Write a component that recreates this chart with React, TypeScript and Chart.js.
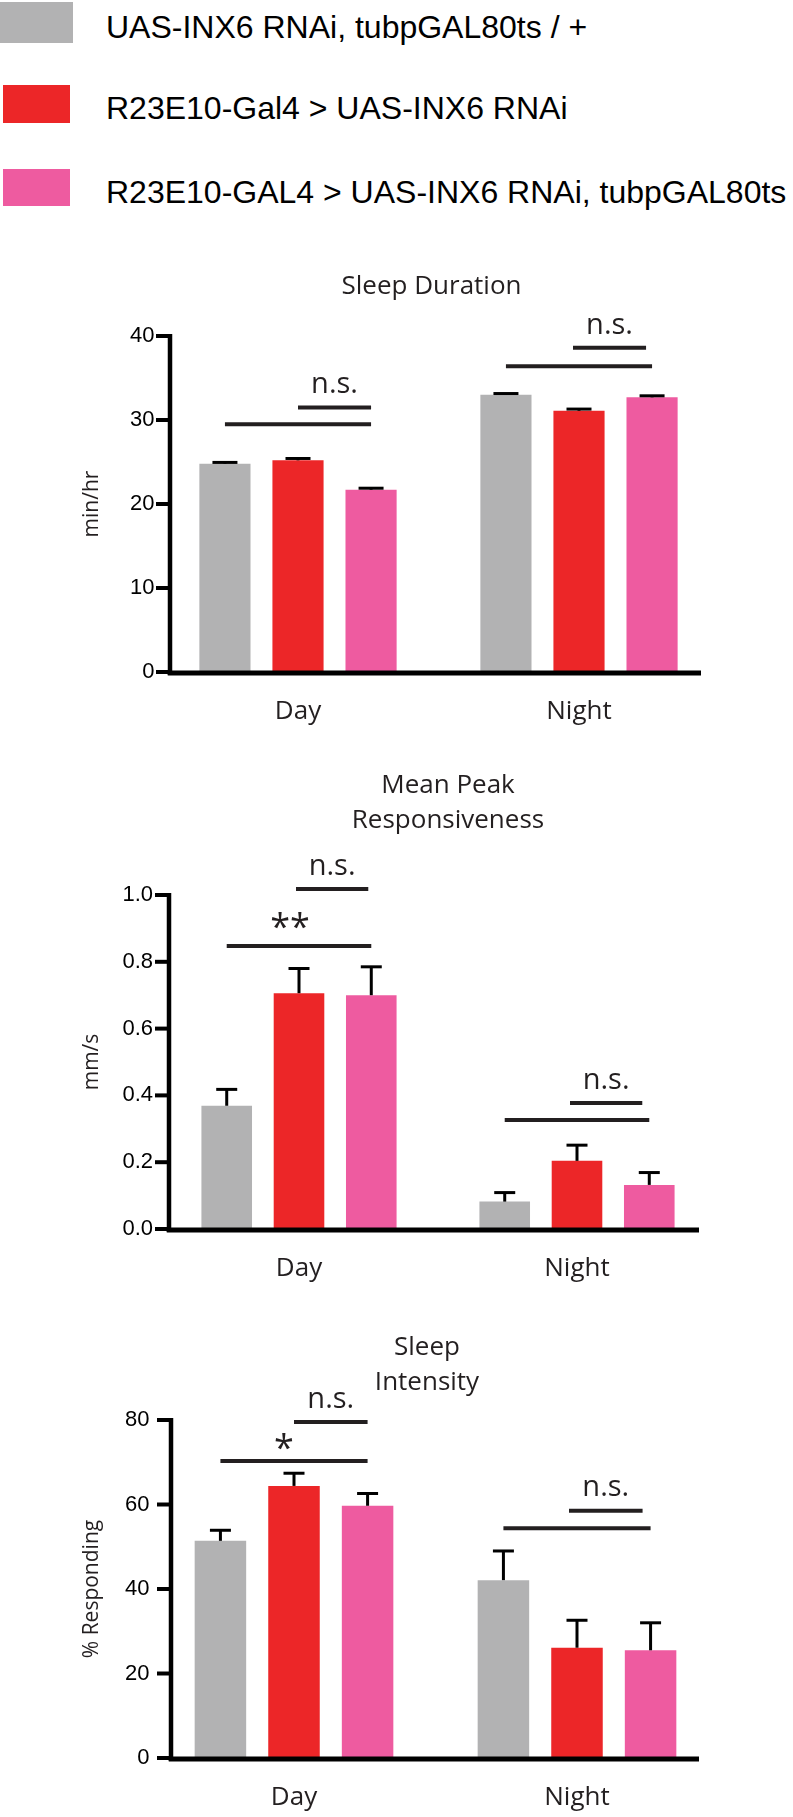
import { useEffect, useRef } from 'react';
import { Chart, registerables } from 'chart.js';

Chart.register(...registerables);

// ---------- data ----------
const categories = ['Day', 'Night'];
const seriesNames = [
  'UAS-INX6 RNAi, tubpGAL80ts / +',
  'R23E10-Gal4 > UAS-INX6 RNAi',
  'R23E10-GAL4 > UAS-INX6 RNAi, tubpGAL80ts',
];
const seriesColors = ['#b2b2b3', '#ec2628', '#ee5ba0'];

// Sleep Duration (min/hr)
const durationControl = [24.8, 33.0];
const durationRNAi = [25.2, 31.1];
const durationRNAiTs = [21.7, 32.7];
const durationControlErr = [0.15, 0.15];
const durationRNAiErr = [0.22, 0.2];
const durationRNAiTsErr = [0.18, 0.18];
const durationTicks = [0, 10, 20, 30, 40];
const durationTickLabels = ['0', '10', '20', '30', '40'];
const durationLines = [
  { cat: 0, from: 0, to: 2, y: 29.5, shift: 0 },
  { cat: 0, from: 1, to: 2, y: 31.5, shift: 0 },
  { cat: 1, from: 0, to: 2, y: 36.4, shift: 0 },
  { cat: 1, from: 1, to: 2, y: 38.6, shift: -6 },
];
const durationMarks = [
  { cat: 0, from: 1, to: 2, y: 33.2, text: 'n.s.', shift: 0 },
  { cat: 1, from: 1, to: 2, y: 40.2, text: 'n.s.', shift: -6 },
];

// Mean Peak Responsiveness (mm/s)
const respControl = [0.369, 0.082];
const respRNAi = [0.706, 0.204];
const respRNAiTs = [0.7, 0.132];
const respControlErr = [0.049, 0.027];
const respRNAiErr = [0.074, 0.047];
const respRNAiTsErr = [0.085, 0.037];
const respTicks = [0, 0.2, 0.4, 0.6, 0.8, 1.0];
const respTickLabels = ['0.0', '0.2', '0.4', '0.6', '0.8', '1.0'];
const respLines = [
  { cat: 0, from: 0, to: 2, y: 0.847, shift: 0 },
  { cat: 0, from: 1, to: 2, y: 1.018, shift: -3 },
  { cat: 1, from: 0, to: 2, y: 0.326, shift: 0 },
  { cat: 1, from: 1, to: 2, y: 0.377, shift: -7 },
];
const respMarks = [
  { cat: 0, from: 0, to: 2, y: 0.9, text: '**', shift: -9 },
  { cat: 0, from: 1, to: 2, y: 1.06, text: 'n.s.', shift: -3 },
  { cat: 1, from: 1, to: 2, y: 0.419, text: 'n.s.', shift: -7 },
];

// Sleep Intensity (% Responding)
const intensityControl = [51.4, 42.1];
const intensityRNAi = [64.4, 26.1];
const intensityRNAiTs = [59.7, 25.5];
const intensityControlErr = [2.5, 6.9];
const intensityRNAiErr = [3.0, 6.5];
const intensityRNAiTsErr = [2.9, 6.5];
const intensityTicks = [0, 20, 40, 60, 80];
const intensityTickLabels = ['0', '20', '40', '60', '80'];
const intensityLines = [
  { cat: 0, from: 0, to: 2, y: 70.3, shift: 0 },
  { cat: 0, from: 1, to: 2, y: 79.5, shift: 0 },
  { cat: 1, from: 0, to: 2, y: 54.4, shift: 0 },
  { cat: 1, from: 1, to: 2, y: 58.5, shift: -8 },
];
const intensityMarks = [
  { cat: 0, from: 0, to: 2, y: 73.0, text: '*', shift: -10 },
  { cat: 0, from: 1, to: 2, y: 82.8, text: 'n.s.', shift: 0 },
  { cat: 1, from: 1, to: 2, y: 62.0, text: 'n.s.', shift: -8 },
];

// ---------- styling / layout ----------
const W = 793;
const TEXT = '#231f20';
const OPEN = '"Open Sans", "DejaVu Sans", sans-serif';
const ARIAL = '"Liberation Sans", Arial, sans-serif';

type Panel = {
  values: number[][];
  errors: number[][];
  ticks: number[];
  tickLabels: string[];
  lines: any[];
  marks: any[];
  yTitle: string;
  title: string[];
  canvasTop: number;
  canvasH: number;
  areaTop: number;
  areaBottom: number;
  areaLeft: number;
  areaRight: number;
  axisOffset: number;
  axisRightInset: number;
  labelPad: number;
  titleDx: number;
  titleBaselines: number[];
  cap: number;
};

const panels: Panel[] = [
  {
    values: [durationControl, durationRNAi, durationRNAiTs],
    errors: [durationControlErr, durationRNAiErr, durationRNAiTsErr],
    ticks: durationTicks,
    tickLabels: durationTickLabels,
    lines: durationLines,
    marks: durationMarks,
    yTitle: 'min/hr',
    title: ['Sleep Duration'],
    canvasTop: 240,
    canvasH: 500,
    areaTop: 96,
    areaBottom: 432,
    areaLeft: 157.5,
    areaRight: 719.5,
    axisOffset: 12.5,
    axisRightInset: 18.5,
    labelPad: 3,
    titleDx: -7,
    titleBaselines: [-42],
    cap: 25,
  },
  {
    values: [respControl, respRNAi, respRNAiTs],
    errors: [respControlErr, respRNAiErr, respRNAiTsErr],
    ticks: respTicks,
    tickLabels: respTickLabels,
    lines: respLines,
    marks: respMarks,
    yTitle: 'mm/s',
    title: ['Mean Peak', 'Responsiveness'],
    canvasTop: 740,
    canvasH: 560,
    areaTop: 155,
    areaBottom: 489,
    areaLeft: 160,
    areaRight: 716,
    axisOffset: 9,
    axisRightInset: 17,
    labelPad: 7,
    titleDx: 10,
    titleBaselines: [-102, -67],
    cap: 21,
  },
  {
    values: [intensityControl, intensityRNAi, intensityRNAiTs],
    errors: [intensityControlErr, intensityRNAiErr, intensityRNAiTsErr],
    ticks: intensityTicks,
    tickLabels: intensityTickLabels,
    lines: intensityLines,
    marks: intensityMarks,
    yTitle: '% Responding',
    title: ['Sleep', 'Intensity'],
    canvasTop: 1300,
    canvasH: 517,
    areaTop: 120,
    areaBottom: 458,
    areaLeft: 152.5,
    areaRight: 718.5,
    axisOffset: 18.5,
    axisRightInset: 19.5,
    labelPad: 3,
    titleDx: -8.5,
    titleBaselines: [-65, -30],
    cap: 21,
  },
];

function annotations(p: Panel) {
  return {
    id: 'annotations',
    afterDatasetsDraw(chart: any) {
      const ctx = chart.ctx;
      const ys = chart.scales.y;
      const area = chart.chartArea;
      const zero = ys.getPixelForValue(0);
      const top = ys.getPixelForValue(p.ticks[p.ticks.length - 1]);
      const axisX = area.left + p.axisOffset;
      const metas = chart.data.datasets.map((_: any, i: number) => chart.getDatasetMeta(i));
      ctx.save();
      ctx.lineCap = 'butt';

      // error bars (upper only)
      metas.forEach((meta: any, di: number) => {
        meta.data.forEach((el: any, ci: number) => {
          const yTop = ys.getPixelForValue(p.values[di][ci] + p.errors[di][ci]);
          ctx.strokeStyle = '#000';
          ctx.lineWidth = 3;
          ctx.beginPath();
          ctx.moveTo(el.x, el.y);
          ctx.lineTo(el.x, yTop);
          ctx.stroke();
          ctx.beginPath();
          ctx.moveTo(el.x - p.cap / 2, yTop);
          ctx.lineTo(el.x + p.cap / 2, yTop);
          ctx.stroke();
        });
      });

      // axes
      ctx.strokeStyle = '#000';
      ctx.lineWidth = 4.5;
      ctx.beginPath();
      ctx.moveTo(axisX, top - 2);
      ctx.lineTo(axisX, zero + 3);
      ctx.stroke();
      ctx.lineWidth = 5;
      ctx.beginPath();
      ctx.moveTo(axisX - 2.25, zero + 1);
      ctx.lineTo(area.right - p.axisRightInset, zero + 1);
      ctx.stroke();
      ctx.lineWidth = 4;
      ys.ticks.forEach((t: any) => {
        const y = ys.getPixelForValue(t.value);
        ctx.beginPath();
        ctx.moveTo(axisX - 14, y);
        ctx.lineTo(axisX, y);
        ctx.stroke();
      });

      // significance lines
      ctx.strokeStyle = TEXT;
      ctx.lineWidth = 4;
      p.lines.forEach((l: any) => {
        const x1 = metas[l.from].data[l.cat].x + l.shift;
        const x2 = metas[l.to].data[l.cat].x + l.shift;
        const y = ys.getPixelForValue(l.y);
        ctx.beginPath();
        ctx.moveTo(x1, y);
        ctx.lineTo(x2, y);
        ctx.stroke();
      });

      // significance text
      ctx.fillStyle = TEXT;
      ctx.textAlign = 'center';
      p.marks.forEach((m: any) => {
        const x1 = metas[m.from].data[m.cat].x;
        const x2 = metas[m.to].data[m.cat].x;
        const x = (x1 + x2) / 2 + m.shift;
        const y = ys.getPixelForValue(m.y);
        if (m.text.startsWith('*')) {
          ctx.font = `36px ${OPEN}`;
          ctx.textBaseline = 'middle';
        } else {
          ctx.font = `29px ${OPEN}`;
          ctx.textBaseline = 'alphabetic';
        }
        ctx.fillText(m.text, x, y);
      });

      // chart title
      ctx.font = `26px ${OPEN}`;
      ctx.textBaseline = 'alphabetic';
      const cx = (area.left + area.right) / 2 + p.titleDx;
      p.title.forEach((line, i) => {
        ctx.fillText(line, cx, area.top + p.titleBaselines[i]);
      });
      ctx.restore();
    },
  };
}

function makeConfig(p: Panel): any {
  return {
    type: 'bar',
    data: {
      labels: categories,
      datasets: p.values.map((vals, i) => ({
        label: seriesNames[i],
        data: vals,
        backgroundColor: seriesColors[i],
        borderWidth: 0,
        categoryPercentage: 0.78,
        barPercentage: 0.7,
      })),
    },
    options: {
      responsive: false,
      animation: false,
      devicePixelRatio: 1,
      layout: {
        padding: { top: p.areaTop, bottom: 0, left: 0, right: W - p.areaRight },
      },
      plugins: {
        legend: { display: false },
        tooltip: { enabled: false },
        title: { display: false },
      },
      scales: {
        x: {
          grid: { display: false, drawTicks: false },
          border: { display: false },
          ticks: {
            font: { family: OPEN, size: 26 },
            color: TEXT,
            padding: 24,
          },
          afterFit: (s: any) => {
            s.height = p.canvasH - p.areaBottom;
          },
        },
        y: {
          min: p.ticks[0],
          max: p.ticks[p.ticks.length - 1],
          grid: { display: false, drawTicks: false },
          border: { display: false },
          afterBuildTicks: (s: any) => {
            s.ticks = p.ticks.map((v) => ({ value: v }));
          },
          ticks: {
            font: { family: ARIAL, size: 22 },
            color: '#000',
            padding: p.labelPad,
            callback: (_v: any, i: number) => p.tickLabels[i],
          },
          title: {
            display: true,
            text: p.yTitle,
            font: { family: OPEN, size: 21 },
            color: TEXT,
            padding: { top: 79, bottom: 0 },
          },
          afterFit: (s: any) => {
            s.width = p.areaLeft;
          },
        },
      },
    },
    plugins: [annotations(p)],
  };
}

function Panel({ p }: { p: Panel }) {
  const ref = useRef<HTMLCanvasElement | null>(null);
  useEffect(() => {
    if (!ref.current) return;
    const chart = new Chart(ref.current, makeConfig(p));
    return () => chart.destroy();
  }, [p]);
  return (
    <canvas
      ref={ref}
      width={W}
      height={p.canvasH}
      style={{ position: 'absolute', left: 0, top: p.canvasTop, width: W, height: p.canvasH }}
    />
  );
}

const legendSwatchTops = [2, 85, 169];
const legendSwatchHeights = [41, 38, 37];

export default function App() {
  return (
    <div
      style={{
        position: 'absolute',
        left: 0,
        top: 0,
        width: W,
        height: 1817,
        background: '#fff',
        overflow: 'hidden',
      }}
    >
      {seriesNames.map((name, i) => (
        <div key={name}>
          <div
            style={{
              position: 'absolute',
              left: i === 0 ? 0 : 3,
              top: legendSwatchTops[i],
              width: i === 0 ? 73 : 67,
              height: legendSwatchHeights[i],
              background: seriesColors[i],
            }}
          />
          <div
            style={{
              position: 'absolute',
              left: 106,
              top: legendSwatchTops[i] + legendSwatchHeights[i] / 2 + 15 - 27,
              fontFamily: ARIAL,
              fontSize: 32,
              lineHeight: '32px',
              color: '#000',
              whiteSpace: 'nowrap',
            }}
          >
            {name}
          </div>
        </div>
      ))}
      {panels.map((p, i) => (
        <Panel key={i} p={p} />
      ))}
    </div>
  );
}
